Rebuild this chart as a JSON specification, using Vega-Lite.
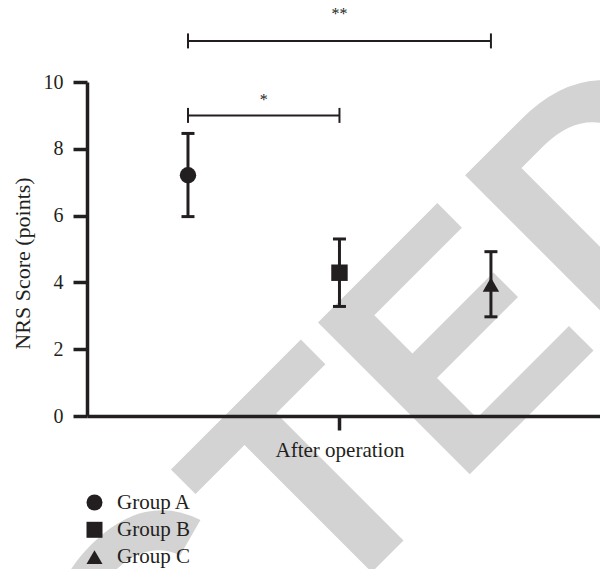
{
  "$schema": "https://vega.github.io/schema/vega-lite/v6.json",
  "width": 513,
  "height": 334,
  "autosize": {"type": "none"},
  "padding": {"left": 87, "top": 82, "right": 0, "bottom": 153},
  "background": "white",
  "config": {"view": {"stroke": null}, "font": "Liberation Serif"},
  "datasets": {
    "groups": [
      {"group": "Group A", "pos": 1, "mean": 7.21, "lo": 5.97, "hi": 8.46},
      {"group": "Group B", "pos": 2, "mean": 4.29, "lo": 3.28, "hi": 5.3},
      {"group": "Group C", "pos": 3, "mean": 3.93, "lo": 2.97, "hi": 4.92}
    ],
    "brackets": [
      {"from": 1, "to": 2, "y": 9.0, "mid": 1.5, "labelY": 9.31, "label": "*"},
      {"from": 1, "to": 3, "y": 11.23, "mid": 2, "labelY": 11.89, "label": "**"}
    ],
    "watermark": [
      {"pos": 4.786, "score": 6.99, "text": "RETRACTED"}
    ]
  },
  "layer": [
    {
      "data": {"name": "watermark"},
      "mark": {"type": "text", "font": "Liberation Sans", "fontWeight": "bold", "fontSize": 312, "angle": -45, "align": "right", "baseline": "alphabetic", "color": "#d3d3d3", "clip": false, "zindex": 0},
      "encoding": {
        "x": {
          "field": "pos", "type": "quantitative",
          "scale": {"domain": [0.3333, 3.72], "nice": false, "zero": false},
          "axis": {
            "values": [2], "labelExpr": "'After operation'", "title": null, "grid": false, "zindex": 2,
            "domainColor": "#231f20", "domainWidth": 3.5, "tickColor": "#231f20", "tickWidth": 3.5, "tickSize": 14,
            "labelFont": "Liberation Serif", "labelFontSize": 21, "labelColor": "#231f20", "labelPadding": 9
          }
        },
        "y": {
          "field": "score", "type": "quantitative",
          "scale": {"domain": [0, 10], "nice": false, "zero": false},
          "axis": {
            "values": [0, 2, 4, 6, 8, 10], "format": "d", "title": "NRS Score (points)", "grid": false, "zindex": 2,
            "domainColor": "#231f20", "domainWidth": 3.5, "tickColor": "#231f20", "tickWidth": 3.5, "tickSize": 14,
            "labelFont": "Liberation Serif", "labelFontSize": 20, "labelColor": "#231f20", "labelPadding": 10,
            "titleFont": "Liberation Serif", "titleFontSize": 22, "titleFontWeight": "normal", "titleColor": "#231f20",
            "titleX": -53, "titleY": 181, "titleBaseline": "bottom", "titleAngle": -90, "titleAlign": "center"
          }
        },
        "text": {"field": "text"}
      }
    },
    {
      "data": {"name": "groups"},
      "mark": {"type": "rule", "color": "#231f20", "strokeWidth": 3, "clip": false, "zindex": 1},
      "encoding": {
        "x": {"field": "pos", "type": "quantitative", "scale": {"domain": [0.3333, 3.72], "nice": false, "zero": false}},
        "y": {"field": "lo", "type": "quantitative", "scale": {"domain": [0, 10], "nice": false, "zero": false}},
        "y2": {"field": "hi"}
      }
    },
    {
      "data": {"name": "groups"},
      "mark": {"type": "tick", "orient": "horizontal", "color": "#231f20", "size": 13, "thickness": 3, "opacity": 1, "clip": false, "zindex": 1},
      "encoding": {
        "x": {"field": "pos", "type": "quantitative", "scale": {"domain": [0.3333, 3.72], "nice": false, "zero": false}},
        "y": {"field": "lo", "type": "quantitative", "scale": {"domain": [0, 10], "nice": false, "zero": false}}
      }
    },
    {
      "data": {"name": "groups"},
      "mark": {"type": "tick", "orient": "horizontal", "color": "#231f20", "size": 13, "thickness": 3, "opacity": 1, "clip": false, "zindex": 1},
      "encoding": {
        "x": {"field": "pos", "type": "quantitative", "scale": {"domain": [0.3333, 3.72], "nice": false, "zero": false}},
        "y": {"field": "hi", "type": "quantitative", "scale": {"domain": [0, 10], "nice": false, "zero": false}}
      }
    },
    {
      "data": {"name": "groups"},
      "mark": {"type": "point", "filled": true, "size": 270, "color": "#231f20", "opacity": 1, "strokeWidth": 0, "clip": false, "zindex": 1},
      "encoding": {
        "x": {"field": "pos", "type": "quantitative", "scale": {"domain": [0.3333, 3.72], "nice": false, "zero": false}},
        "y": {"field": "mean", "type": "quantitative", "scale": {"domain": [0, 10], "nice": false, "zero": false}},
        "shape": {
          "field": "group", "type": "nominal",
          "scale": {"domain": ["Group A", "Group B", "Group C"], "range": ["circle", "square", "triangle-up"]},
          "legend": {
            "orient": "none", "legendX": -3, "legendY": 410, "title": null, "padding": 0, "zindex": 2,
            "labelFont": "Liberation Serif", "labelFontSize": 21, "labelColor": "#231f20", "labelOffset": 12,
            "symbolSize": 256, "symbolFillColor": "#231f20", "symbolStrokeColor": "#231f20", "symbolStrokeWidth": 0,
            "rowPadding": 5.3
          }
        }
      }
    },
    {
      "data": {"name": "brackets"},
      "mark": {"type": "rule", "color": "#231f20", "strokeWidth": 2, "clip": false, "zindex": 1},
      "encoding": {
        "x": {"field": "from", "type": "quantitative", "scale": {"domain": [0.3333, 3.72], "nice": false, "zero": false}},
        "x2": {"field": "to"},
        "y": {"field": "y", "type": "quantitative", "scale": {"domain": [0, 10], "nice": false, "zero": false}}
      }
    },
    {
      "data": {"name": "brackets"},
      "mark": {"type": "tick", "orient": "vertical", "color": "#231f20", "size": 15, "thickness": 2, "opacity": 1, "clip": false, "zindex": 1},
      "encoding": {
        "x": {"field": "from", "type": "quantitative", "scale": {"domain": [0.3333, 3.72], "nice": false, "zero": false}},
        "y": {"field": "y", "type": "quantitative", "scale": {"domain": [0, 10], "nice": false, "zero": false}}
      }
    },
    {
      "data": {"name": "brackets"},
      "mark": {"type": "tick", "orient": "vertical", "color": "#231f20", "size": 15, "thickness": 2, "opacity": 1, "clip": false, "zindex": 1},
      "encoding": {
        "x": {"field": "to", "type": "quantitative", "scale": {"domain": [0.3333, 3.72], "nice": false, "zero": false}},
        "y": {"field": "y", "type": "quantitative", "scale": {"domain": [0, 10], "nice": false, "zero": false}}
      }
    },
    {
      "data": {"name": "brackets"},
      "mark": {"type": "text", "font": "Liberation Serif", "fontSize": 16, "color": "#231f20", "align": "center", "baseline": "alphabetic", "clip": false, "zindex": 1},
      "encoding": {
        "x": {"field": "mid", "type": "quantitative", "scale": {"domain": [0.3333, 3.72], "nice": false, "zero": false}},
        "y": {"field": "labelY", "type": "quantitative", "scale": {"domain": [0, 10], "nice": false, "zero": false}},
        "text": {"field": "label"}
      }
    }
  ]
}
